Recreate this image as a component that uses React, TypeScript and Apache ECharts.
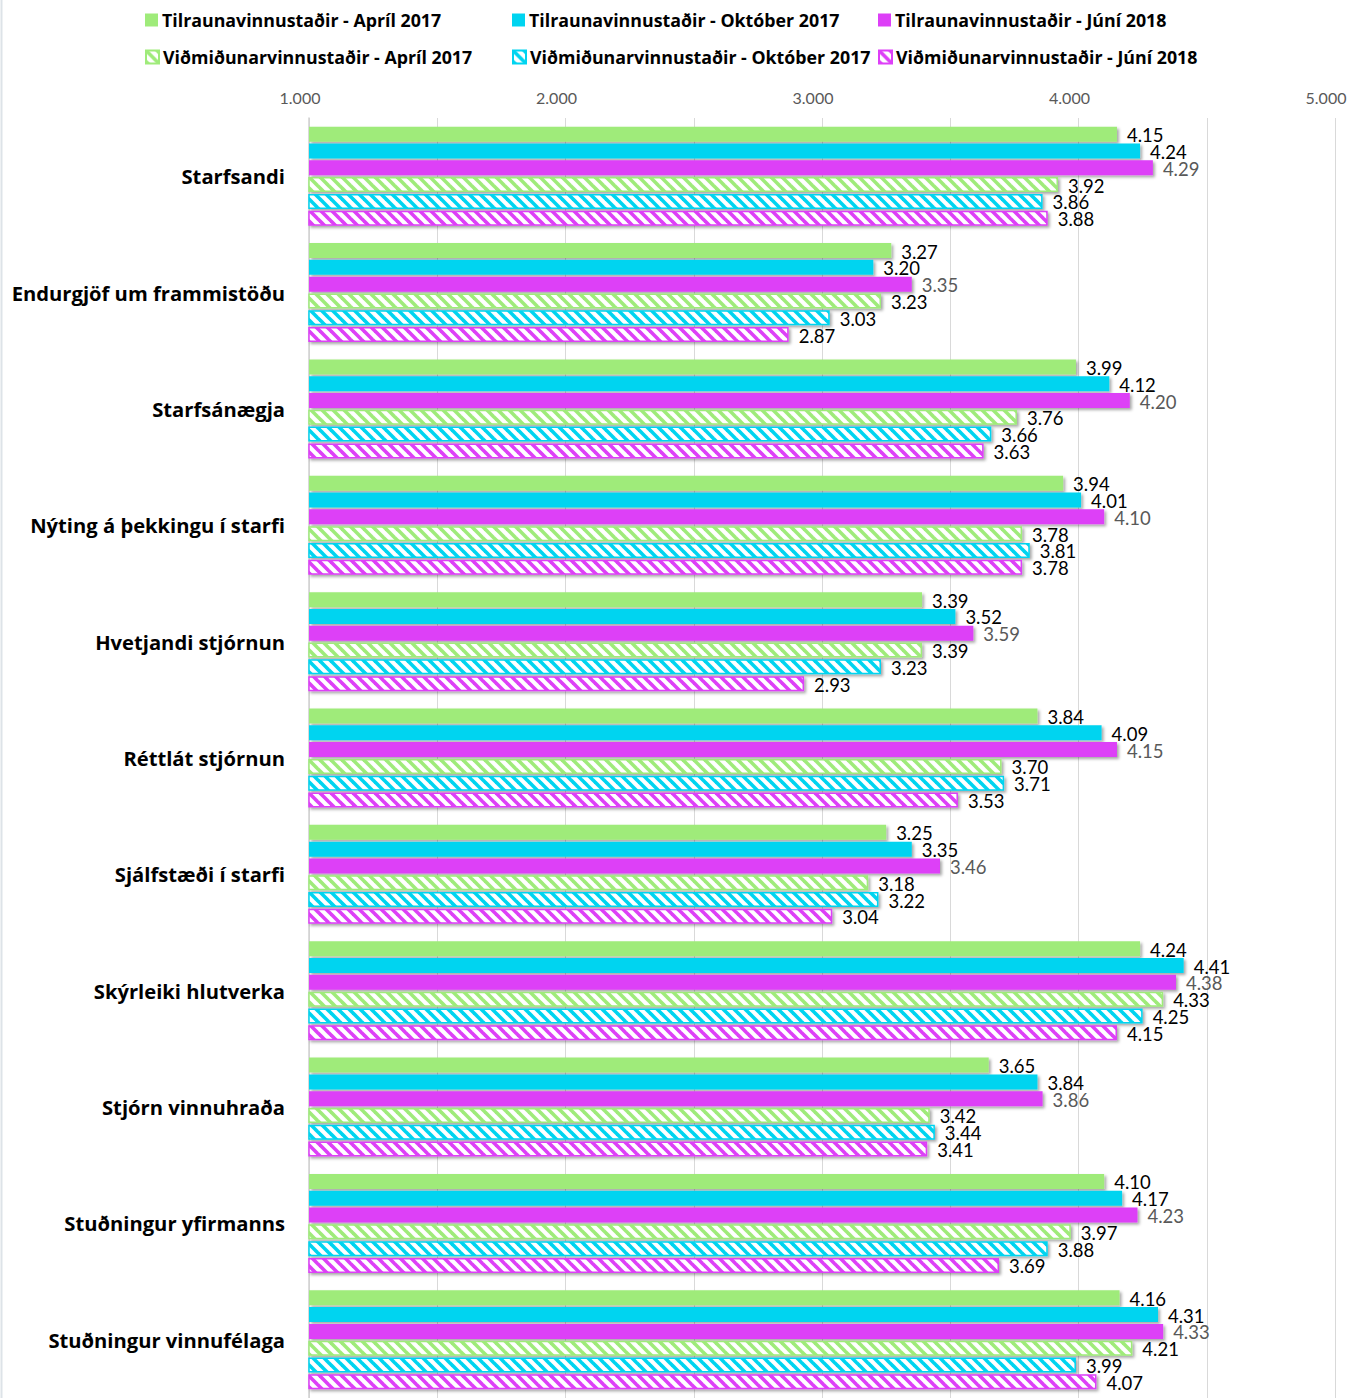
import React, { useEffect, useRef } from "react";
import * as echarts from "echarts";

const categories = [
  "Starfsandi",
  "Endurgjöf um frammistöðu",
  "Starfsánægja",
  "Nýting á þekkingu í starfi",
  "Hvetjandi stjórnun",
  "Réttlát stjórnun",
  "Sjálfstæði í starfi",
  "Skýrleiki hlutverka",
  "Stjórn vinnuhraða",
  "Stuðningur yfirmanns",
  "Stuðningur vinnufélaga",
];

const seriesNames = [
  "Tilraunavinnustaðir - Apríl 2017",
  "Tilraunavinnustaðir - Október 2017",
  "Tilraunavinnustaðir - Júní 2018",
  "Viðmiðunarvinnustaðir - Apríl 2017",
  "Viðmiðunarvinnustaðir - Október 2017",
  "Viðmiðunarvinnustaðir - Júní 2018",
];

const tilraunApril2017 = [4.15, 3.27, 3.99, 3.94, 3.39, 3.84, 3.25, 4.24, 3.65, 4.10, 4.16];
const tilraunOktober2017 = [4.24, 3.20, 4.12, 4.01, 3.52, 4.09, 3.35, 4.41, 3.84, 4.17, 4.31];
const tilraunJuni2018 = [4.29, 3.35, 4.20, 4.10, 3.59, 4.15, 3.46, 4.38, 3.86, 4.23, 4.33];
const vidmidApril2017 = [3.92, 3.23, 3.76, 3.78, 3.39, 3.70, 3.18, 4.33, 3.42, 3.97, 4.21];
const vidmidOktober2017 = [3.86, 3.03, 3.66, 3.81, 3.23, 3.71, 3.22, 4.25, 3.44, 3.88, 3.99];
const vidmidJuni2018 = [3.88, 2.87, 3.63, 3.78, 2.93, 3.53, 3.04, 4.15, 3.41, 3.69, 4.07];

const axisMin = 1;
const axisMax = 5;
const axisStep = 0.5;

const GREEN = "#9feb7a";
const CYAN = "#00d4f0";
const MAGENTA = "#dd3ff7";

const NUM_FONT = "Lato, 'Open Sans', sans-serif";
const BOLD_FONT = "'Open Sans', Lato, sans-serif";

function stripePattern(color: string) {
  const s = 11;
  const w = 3.6;
  const svg =
    `<svg xmlns="http://www.w3.org/2000/svg" width="${s}" height="${s}">` +
    `<rect width="${s}" height="${s}" fill="#ffffff"/>` +
    `<g stroke="${color}" stroke-width="${w}">` +
    `<line x1="-2" y1="-2" x2="${s + 2}" y2="${s + 2}"/>` +
    `<line x1="${s - 3}" y1="-3" x2="${s + 3}" y2="3"/>` +
    `<line x1="-3" y1="${s - 3}" x2="3" y2="${s + 3}"/>` +
    `</g></svg>`;
  return {
    image: "data:image/svg+xml;charset=utf-8," + encodeURIComponent(svg),
    repeat: "repeat",
    imageWidth: s,
    imageHeight: s,
  };
}

export default function App() {
  const ref = useRef<HTMLDivElement>(null);

  useEffect(() => {
    document.body.style.margin = "0";
    if (!ref.current) return;
    const chart = echarts.init(ref.current, null, { renderer: "svg" });

    const allData = [
      tilraunApril2017,
      tilraunOktober2017,
      tilraunJuni2018,
      vidmidApril2017,
      vidmidOktober2017,
      vidmidJuni2018,
    ];
    const colors = [GREEN, CYAN, MAGENTA, GREEN, CYAN, MAGENTA];
    const labelColors = ["#000", "#000", "#595959", "#000", "#000", "#000"];

    const series = allData.map((d, i) => {
      const hatched = i >= 3;
      const itemStyle: any = hatched
        ? {
            color: stripePattern(colors[i]),
            borderColor: colors[i],
            borderWidth: 1.5,
          }
        : { color: colors[i] };
      itemStyle.shadowBlur = 3;
      itemStyle.shadowColor = "rgba(0,0,0,0.35)";
      itemStyle.shadowOffsetX = 2;
      itemStyle.shadowOffsetY = 2;
      return {
        type: "bar",
        name: seriesNames[i],
        data: d,
        barWidth: 15,
        barGap: "12%",
        itemStyle,
        label: {
          show: true,
          position: "right",
          distance: 10,
          offset: [0, 1],
          color: labelColors[i],
          fontFamily: NUM_FONT,
          fontSize: 18.5,
          formatter: (p: any) => p.value.toFixed(2),
        },
      };
    });

    const legendLefts = [145, 512, 878];
    const legends = seriesNames.map((n, i) => ({
      data: [n],
      left: legendLefts[i % 3],
      top: i < 3 ? 11 : 48,
      padding: 0,
      itemWidth: 13,
      itemHeight: 13,
      itemGap: 4,
      icon: "rect",
      selectedMode: false,
      itemStyle: { shadowBlur: 0, shadowOffsetX: 0, shadowOffsetY: 0, shadowColor: "transparent" },
      textStyle: {
        fontFamily: BOLD_FONT,
        fontWeight: "bold",
        fontSize: 17.8,
        color: "#000",
        padding: [0, 0, 0, -1],
      },
    }));

    chart.setOption({
      animation: false,
      backgroundColor: "#ffffff",
      legend: legends,
      grid: { left: 309, right: 15, top: 118, height: 1287, containLabel: false },
      xAxis: {
        type: "value",
        position: "top",
        min: axisMin,
        max: axisMax,
        interval: axisStep,
        axisLine: { show: false },
        axisTick: { show: false },
        splitLine: { show: true, lineStyle: { color: "#d9d9d9", width: 1 } },
        axisLabel: {
          margin: 13,
          color: "#595959",
          fontFamily: NUM_FONT,
          fontSize: 16,
          padding: [0, 18, 0, 0],
          formatter: (v: number) => (Math.abs(v - Math.round(v)) < 1e-9 ? v.toFixed(3) : ""),
        },
      },
      yAxis: {
        type: "category",
        data: categories,
        inverse: true,
        axisLine: { show: true, lineStyle: { color: "#d0d0d0", width: 1.5 } },
        axisTick: { show: false },
        axisLabel: {
          margin: 24,
          color: "#000",
          fontFamily: BOLD_FONT,
          fontWeight: "bold",
          fontSize: 20.2,
        },
      },
      graphic: [
        {
          type: "line",
          shape: { x1: 1.5, y1: 0, x2: 1.5, y2: 1398 },
          style: { stroke: "#dde3e8", lineWidth: 2 },
        },
      ],
      series,
    });

    return () => chart.dispose();
  }, []);

  return <div ref={ref} style={{ width: 1350, height: 1398 }} />;
}
